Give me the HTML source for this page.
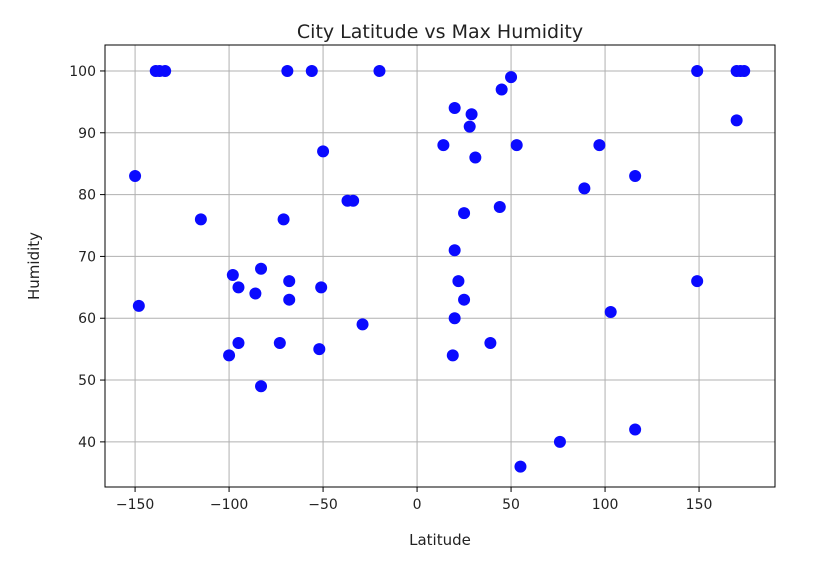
<!DOCTYPE html>
<html><head><meta charset="utf-8"><style>
body{margin:0;background:#fff;font-family:"Liberation Sans","DejaVu Sans",sans-serif;}
svg text{font-family:"DejaVu Sans","Liberation Sans",sans-serif;fill:#222;}
</style></head><body>
<svg id="chart" width="822" height="572">
<text x="440" y="38" font-size="19" text-anchor="middle">City Latitude vs Max Humidity</text>
<text x="440" y="545" font-size="15" text-anchor="middle">Latitude</text>
<text x="0" y="0" font-size="15" text-anchor="middle" transform="translate(39,266) rotate(-90)">Humidity</text>
<g id="grid"></g><g id="ticks"></g><g id="pts"></g>
<rect x="105" y="45" width="670" height="442" fill="none" stroke="#000" stroke-width="1"/>
</svg>
<script>
const latitudes=[-150,-148,-139,-137,-134,-115,-98,-95,-100,-95,-86,-83,-83,-73,-71,-69,-68,-68,-56,-51,-50,-52,-37,-34,-29,-20,14,20,20,22,20,19,25,25,28,29,31,39,44,45,50,53,55,76,89,97,103,116,116,149,149,170,170,172,174];
const humidity=[83,62,100,100,100,76,67,65,54,56,64,68,49,56,76,100,66,63,100,65,87,55,79,79,59,100,88,94,71,66,60,54,77,63,91,93,86,56,78,97,99,88,36,40,81,88,61,83,42,100,66,92,100,100,100];
const xTicks=[-150,-100,-50,0,50,100,150];
const yTicks=[40,50,60,70,80,90,100];
const L=105,R=775,T=45,B=487;
const xMin=-166,xMax=190.4,yMin=32.7,yMax=104.2;
const sx=v=>L+(v-xMin)/(xMax-xMin)*(R-L);
const sy=v=>B-(v-yMin)/(yMax-yMin)*(B-T);
const NS="http://www.w3.org/2000/svg";
const grid=document.getElementById('grid'),ticks=document.getElementById('ticks'),pts=document.getElementById('pts');
function mk(tag,a,p){const e=document.createElementNS(NS,tag);for(const k in a)e.setAttribute(k,a[k]);p.appendChild(e);return e;}
xTicks.forEach(t=>{const x=sx(t);
 const g=mk('line',{x1:x,x2:x,y1:T,y2:B,stroke:'#b0b0b0','stroke-width':1},grid);
 
 
 mk('line',{x1:x,x2:x,y1:B,y2:B+5,stroke:'#000'},ticks);
 const tx=mk('text',{x:x,y:B+22,'font-size':14,'text-anchor':'middle'},ticks);
 tx.textContent=t<0?'\u2212'+(-t):String(t);
 
 
});
yTicks.forEach(t=>{const y=sy(t);
 const g=mk('line',{x1:L,x2:R,y1:y,y2:y,stroke:'#b0b0b0','stroke-width':1},grid);
 
 
 mk('line',{x1:L-5,x2:L,y1:y,y2:y,stroke:'#000'},ticks);
 const tx=mk('text',{x:L-9,y:y+5,'font-size':14,'text-anchor':'end'},ticks);
 tx.textContent=t;
 
 
});
latitudes.forEach((v,i)=>{
 const c=mk('circle',{cx:sx(v),cy:sy(humidity[i]),r:6,fill:'#0a0aff'},pts);
 
 
});
</script>
</body></html>
